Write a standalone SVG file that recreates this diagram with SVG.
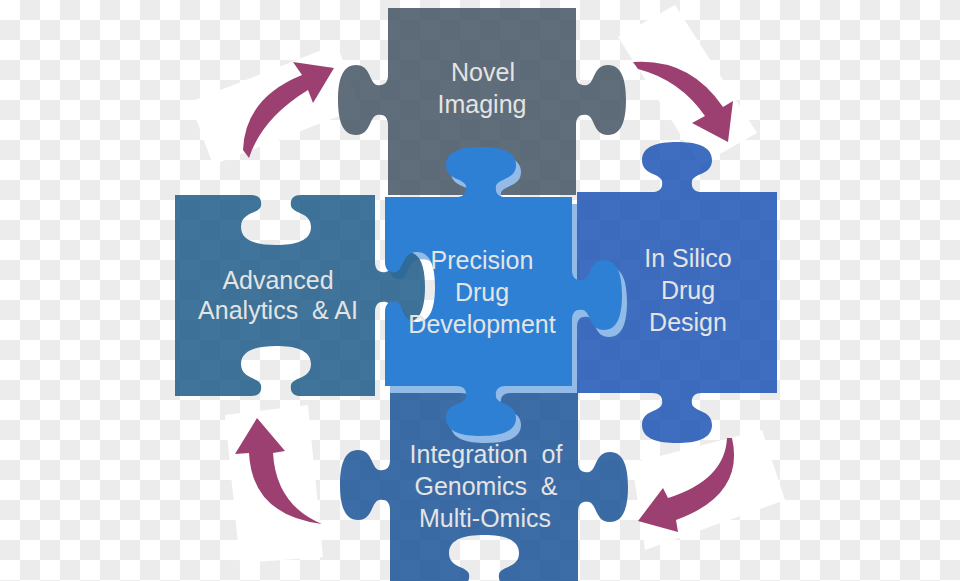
<svg xmlns="http://www.w3.org/2000/svg" width="960" height="581" viewBox="0 0 960 581">
<defs>
<pattern id="checker" width="40" height="40" patternUnits="userSpaceOnUse">
<rect width="40" height="40" fill="#ffffff"/>
<rect x="20" y="0" width="20" height="20" fill="#ececec"/>
<rect x="0" y="20" width="20" height="20" fill="#ececec"/>
</pattern>
<style>
.lbl{font-family:"Liberation Sans",Arial,Helvetica,sans-serif;font-size:25px;fill:#e4e4e4;text-anchor:middle}
.arrow{fill:#9c3f71}
.pad{fill:#ffffff}
.piece{fill-opacity:0.85}
</style>
</defs>
<rect x="0" y="0" width="960" height="581" fill="url(#checker)"/>

<g id="connectors">
<g id="arrow-pads">
<polygon class="pad" points="190,102 337,44 360,108 213,165"/>
<polygon class="pad" points="618,37 675,5 757,133 700,165"/>
<polygon class="pad" points="632,463 762,430 785,500 645,550"/>
<polygon class="pad" points="225,415 308,405 323,557 240,563"/>
</g>
<path id="arrow-ai-to-imaging" class="arrow" d="M249,158 Q262,118 308,90 L313,103 L334,68 L293,62 L302,75 Q245,98 243,150 Z"/>
<path id="arrow-imaging-to-insilico" class="arrow" d="M633,62 Q690,58 723,107 L733,101 L728,142 L692,123 L705,116 Q680,80 638,69 Z"/>
<path id="arrow-insilico-to-omics" class="arrow" d="M727,438 Q725,480 668,498 L663,488 L638,521 L678,532 L676,520 Q745,495 732,438 Z"/>
<path id="arrow-omics-to-ai" class="arrow" d="M249,453 L235,454 L257,418 L285,451 L273,453 Q276,505 322,524 Q252,515 249,453 Z"/>
</g>

<g id="node-novel-imaging">
<path class="piece" fill="#445363" d="M388,8 H576 V75 c0,8 4,11 11,10 c8,-2 6,-20 21,-20 c14,0 18,16 18,35 c0,19 -4,35 -18,35 c-15,0 -13,-18 -21,-20 c-7,-1 -11,2 -11,10 V195 H388 V125 c0,-8 -4,-11 -11,-10 c-8,2 -6,20 -21,20 c-14,0 -18,-16 -18,-35 c0,-19 4,-35 18,-35 c15,0 13,18 21,20 c7,1 11,-2 11,-10 Z"/>
<text class="lbl" x="483" y="81">Novel</text>
<text class="lbl" x="482" y="113">Imaging</text>
</g>

<g id="node-in-silico">
<path class="piece" fill="#1d55b5" d="M577,192 H652 c8,0 11,-4 10,-11 c-2,-8 -20,-6 -20,-21 c0,-14 16,-18 35,-18 c19,0 35,4 35,18 c0,15 -18,13 -20,21 c-1,7 2,11 10,11 H777 V393 H702 c-8,0 -11,4 -10,11 c2,8 20,6 20,21 c0,14 -16,18 -35,18 c-19,0 -35,-4 -35,-18 c0,-15 18,-13 20,-21 c1,-7 -2,-11 -10,-11 H577 Z"/>
<text class="lbl" x="688" y="267">In Silico</text>
<text class="lbl" x="688" y="299">Drug</text>
<text class="lbl" x="688" y="331">Design</text>
</g>

<g id="node-omics">
<path class="piece" fill="#1b5497" d="M390,393 H578 V462 c0,8 4,11 11,10 c8,-2 6,-20 21,-20 c14,0 18,16 18,35 c0,19 -4,35 -18,35 c-15,0 -13,-18 -21,-20 c-7,-1 -11,2 -11,10 V585 H509 c-8,0 -11,-4 -10,-11 c2,-8 20,-6 20,-21 c0,-14 -16,-18 -35,-18 c-19,0 -35,4 -35,18 c0,15 18,13 20,21 c1,7 -2,11 -10,11 H390 V510 c0,-8 -4,-11 -11,-10 c-8,2 -6,20 -21,20 c-14,0 -18,-16 -18,-35 c0,-19 4,-35 18,-35 c15,0 13,18 21,20 c7,1 11,-2 11,-10 Z"/>
<text class="lbl" x="486" y="463" xml:space="preserve">Integration  of</text>
<text class="lbl" x="486" y="495" xml:space="preserve">Genomics  &amp;</text>
<text class="lbl" x="485" y="527">Multi-Omics</text>
</g>

<g id="node-precision-bevel">
<path fill="#93bbe8" transform="translate(5,7)" d="M385,197 H456 c8,0 11,-4 10,-11 c-2,-8 -20,-6 -20,-21 c0,-14 16,-18 35,-18 c19,0 35,4 35,18 c0,15 -18,13 -20,21 c-1,7 2,11 10,11 H572 V270 c0,8 4,11 11,10 c8,-2 6,-20 21,-20 c14,0 18,16 18,35 c0,19 -4,35 -18,35 c-15,0 -13,-18 -21,-20 c-7,-1 -11,2 -11,10 V386 H506 c-8,0 -11,4 -10,11 c2,8 20,6 20,21 c0,14 -16,18 -35,18 c-19,0 -35,-4 -35,-18 c0,-15 18,-13 20,-21 c1,-7 -2,-11 -10,-11 H385 V312 c0,-8 4,-11 11,-10 c8,2 6,20 21,20 c14,0 18,-16 18,-35 c0,-19 -4,-35 -18,-35 c-15,0 -13,18 -21,20 c-7,1 -11,-2 -11,-10 Z"/>
</g>

<g id="node-advanced-analytics">
<path class="piece" fill="#1e5c88" d="M175,195 H251 c8,0 11,4 10,11 c-2,8 -20,6 -20,21 c0,14 16,18 35,18 c19,0 35,-4 35,-18 c0,-15 -18,-13 -20,-21 c-1,-7 2,-11 10,-11 H375 V262 c0,8 4,11 11,10 c8,-2 6,-20 21,-20 c14,0 18,16 18,35 c0,19 -4,35 -18,35 c-15,0 -13,-18 -21,-20 c-7,-1 -11,2 -11,10 V396 H301 c-8,0 -11,-4 -10,-11 c2,-8 20,-6 20,-21 c0,-14 -16,-18 -35,-18 c-19,0 -35,4 -35,18 c0,15 18,13 20,21 c1,7 -2,11 -10,11 H175 Z"/>
<text class="lbl" x="278" y="289">Advanced</text>
<text class="lbl" x="278" y="319" xml:space="preserve">Analytics  &amp; AI</text>
</g>

<g id="node-precision">
<path fill="#2e80d4" d="M385,197 H456 c8,0 11,-4 10,-11 c-2,-8 -20,-6 -20,-21 c0,-14 16,-18 35,-18 c19,0 35,4 35,18 c0,15 -18,13 -20,21 c-1,7 2,11 10,11 H572 V270 c0,8 4,11 11,10 c8,-2 6,-20 21,-20 c14,0 18,16 18,35 c0,19 -4,35 -18,35 c-15,0 -13,-18 -21,-20 c-7,-1 -11,2 -11,10 V386 H506 c-8,0 -11,4 -10,11 c2,8 20,6 20,21 c0,14 -16,18 -35,18 c-19,0 -35,-4 -35,-18 c0,-15 18,-13 20,-21 c1,-7 -2,-11 -10,-11 H385 V312 c0,-8 4,-11 11,-10 c8,2 6,20 21,20 c14,0 18,-16 18,-35 c0,-19 -4,-35 -18,-35 c-15,0 -13,18 -21,20 c-7,1 -11,-2 -11,-10 Z"/>
<text class="lbl" x="482" y="269">Precision</text>
<text class="lbl" x="482" y="301">Drug</text>
<text class="lbl" x="482" y="333">Development</text>
</g>
</svg>
